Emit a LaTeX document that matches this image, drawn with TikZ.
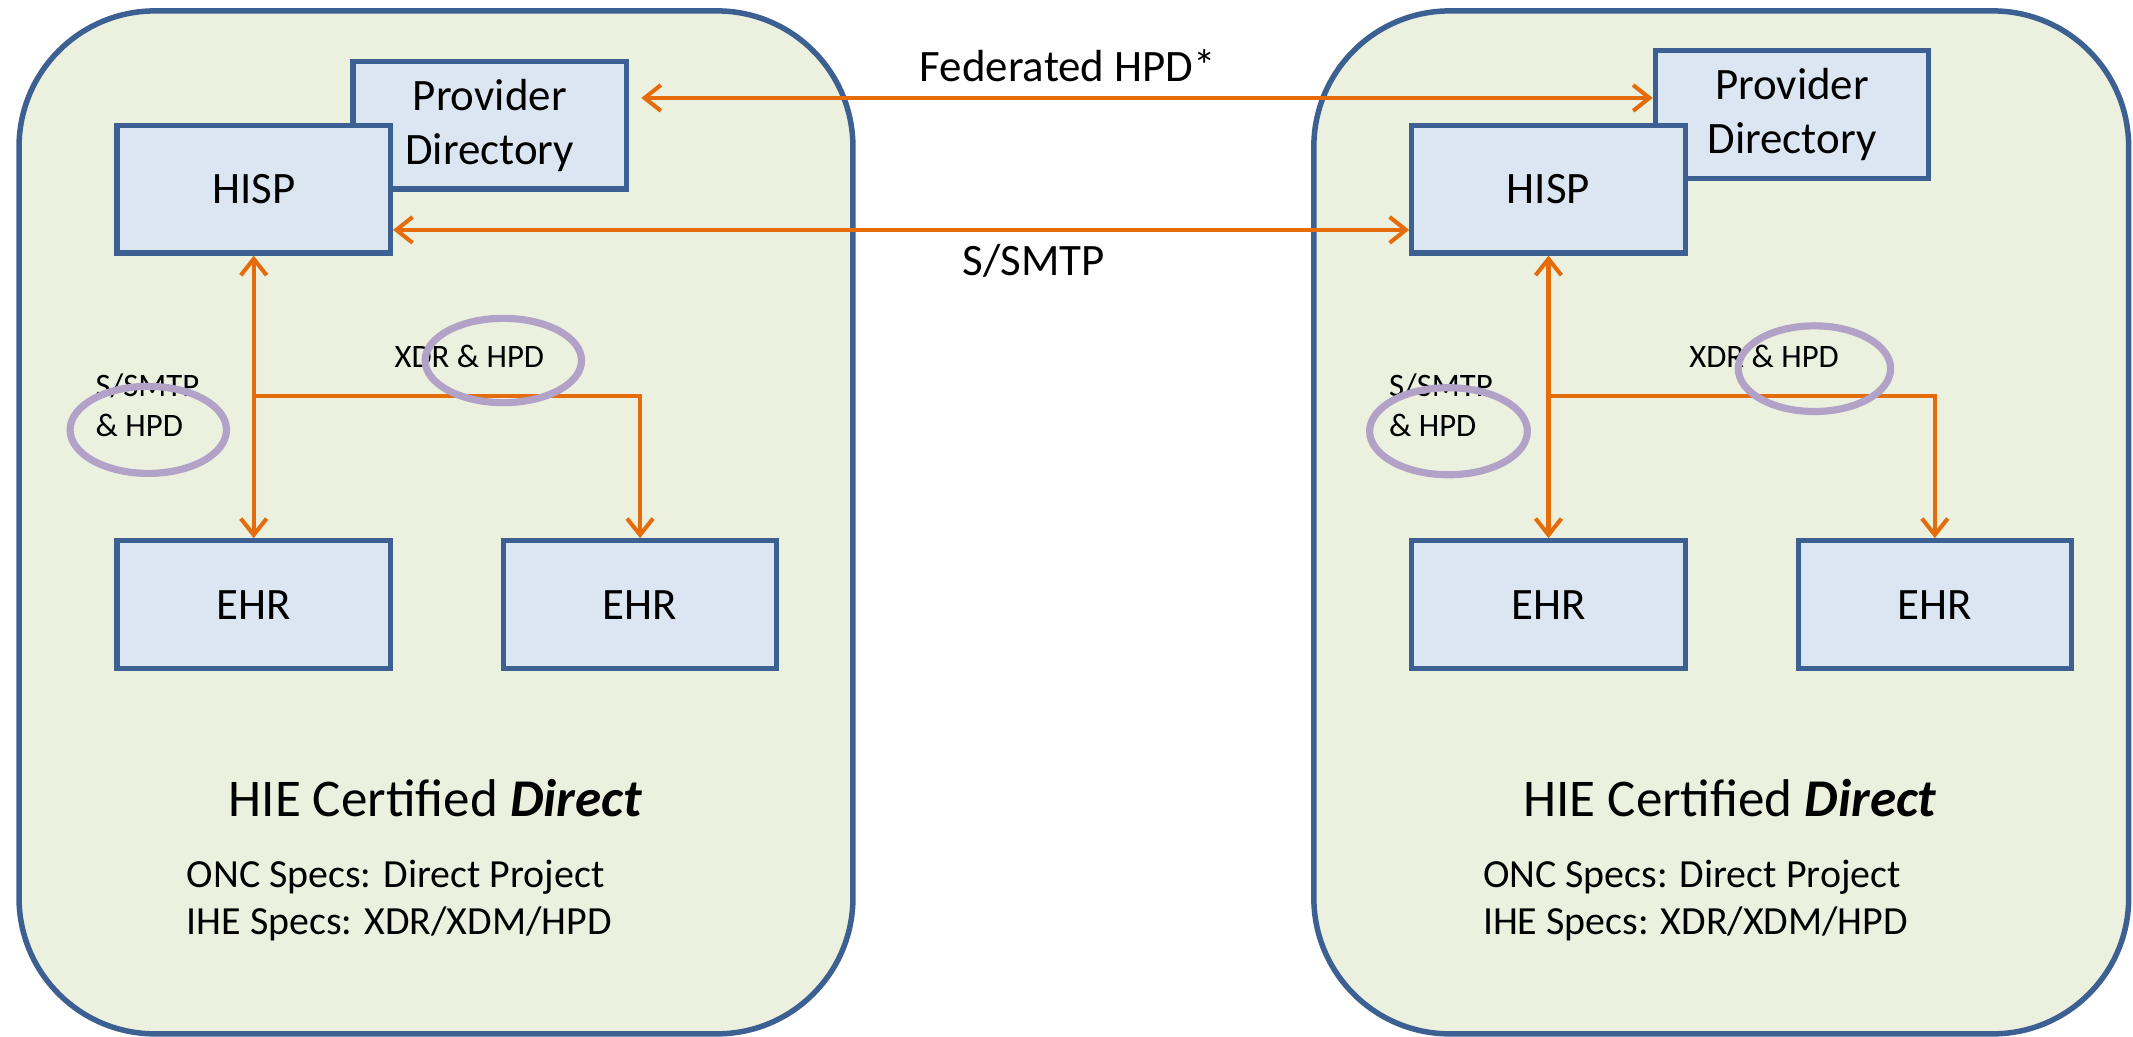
\documentclass[tikz,border=0pt]{standalone}
\usepackage{fontspec}
\setmainfont{Carlito}
\usetikzlibrary{arrows.meta, shapes.geometric}

\definecolor{frameblue}{RGB}{60,96,145}
\definecolor{zonegreen}{RGB}{235,240,223}
\definecolor{boxblue}{RGB}{220,230,242}
\definecolor{linkorange}{RGB}{228,108,10}
\definecolor{ringlilac}{RGB}{178,162,199}

\tikzset{
  zone/.style={draw=frameblue, fill=zonegreen, line width=2.3pt, rounded corners=2cm},
  sysbox/.style={draw=frameblue, fill=boxblue, line width=2.2pt, minimum width=4.02cm,
    minimum height=1.88cm, inner sep=0pt, align=center, font=\fontsize{18.8pt}{22.7pt}\selectfont},
  flow/.style={draw=linkorange, line width=1.7pt},
  ring/.style={ellipse, draw=ringlilac, line width=3pt, inner sep=0pt},
  tag/.style={align=left, inner sep=0pt, font=\fontsize{13.7pt}{17pt}\selectfont},
  linklabel/.style={inner sep=0pt, font=\fontsize{18.8pt}{22.7pt}\selectfont},
  title/.style={inner sep=0pt, font=\fontsize{22.2pt}{26pt}\selectfont},
  specs/.style={align=left, inner sep=0pt, font=\fontsize{16.7pt}{19.9pt}\selectfont}
}

\begin{document}
\begin{tikzpicture}[x=0.02cm, y=-0.02cm, >={Straight Barb[length=0.24cm,width=0.38cm]}]
\useasboundingbox (0,0) rectangle (1568,762);
% left community
\begin{scope}
\draw[zone] (14,8) rectangle (627,760);
\node[sysbox] (pdL) at (360,92) {Provider\\Directory};
\node[sysbox] (hispL) at (186.5,139) {HISP};
\node[sysbox] (ehrL) at (186.5,444.5) {EHR};
\node[sysbox] (ehrbL) at (470.5,444.5) {EHR};
\coordinate (forkL) at (186.5,291);
\draw[flow,<->] (hispL.south) -- (ehrL.north);
\draw[flow,->] (forkL) -| (ehrbL.north);
\node[tag, anchor=west] (tagL) at (70,298) {S/SMTP\\\& HPD};
\node[tag] (xdrL) at (345,262) {XDR \& HPD};
\node[title] (hieL) at (320,587) {HIE Certified \textbf{\textit{Direct}}};
\node[specs, anchor=west] (specL) at (137,662) {ONC Specs: Direct Project\\IHE Specs: XDR/XDM/HPD};
\node[ring, minimum width=2.3cm, minimum height=1.28cm] (ringL) at (109,316) {};
\node[ring, minimum width=2.3cm, minimum height=1.24cm] (ringbL) at (370,265) {};
\end{scope}
% right community
\begin{scope}[xshift=19.04cm]
\draw[zone] (14,8) rectangle (613,760);
\node[sysbox] (pdR) at (365.5,84) {Provider\\Directory};
\node[sysbox] (hispR) at (186.5,139) {HISP};
\node[sysbox] (ehrR) at (186.5,444.5) {EHR};
\node[sysbox] (ehrbR) at (470.5,444.5) {EHR};
\coordinate (forkR) at (186.5,291);
\draw[flow,<->] (hispR.south) -- (ehrR.north);
\draw[flow,->] (forkR) -| (ehrbR.north);
\node[tag, anchor=west] (tagR) at (69,298) {S/SMTP\\\& HPD};
\node[tag] (xdrR) at (345,262) {XDR \& HPD};
\node[title] (hieR) at (320,587) {HIE Certified \textbf{\textit{Direct}}};
\node[specs, anchor=west] (specR) at (138,662) {ONC Specs: Direct Project\\IHE Specs: XDR/XDM/HPD};
\node[ring, minimum width=2.32cm, minimum height=1.28cm] (ringR) at (113,317) {};
\node[ring, minimum width=2.24cm, minimum height=1.26cm] (ringbR) at (382,271) {};
\end{scope}
% links between the two
\coordinate (fedlev) at (0,72);
\coordinate (smtplev) at (0,169);
\draw[flow,<->] ([xshift=0.18cm]pdL.east |- fedlev) -- (pdR.west |- fedlev);
\draw[flow,<->] (hispL.east |- smtplev) -- (hispR.west |- smtplev);
\node[linklabel] (fedtxt) at (785,48) {Federated HPD*};
\node[linklabel] (smtptxt) at (760,192) {S/SMTP};
\end{tikzpicture}
\end{document}
